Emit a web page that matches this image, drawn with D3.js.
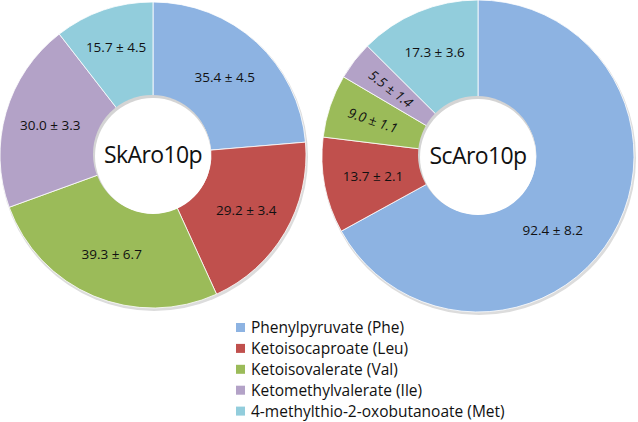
<!DOCTYPE html>
<html><head><meta charset="utf-8">
<script src="https://cdn.jsdelivr.net/npm/d3@7"></script>
<style>body{margin:0;background:#fff}svg{display:block}</style>
</head><body>
<svg id="c" width="638" height="422"></svg>
<script>
const categories = ["Phenylpyruvate (Phe)","Ketoisocaproate (Leu)","Ketoisovalerate (Val)","Ketomethylvalerate (Ile)","4-methylthio-2-oxobutanoate (Met)"];
const colors = ["#8db3e2","#c0504d","#9bbb59","#b3a2c7","#92cddc"];
const skValues = [35.4, 29.2, 39.3, 30.0, 15.7];
const skErrors = [4.5, 3.4, 6.7, 3.3, 4.5];
const scValues = [92.4, 13.7, 9.0, 5.5, 17.3];
const scErrors = [8.2, 2.1, 1.1, 1.4, 3.6];
const enzymes = ["SkAro10p","ScAro10p"];

const svg = d3.select("#c");
const font = "'Open Sans', sans-serif";

const donuts = [
  {name: enzymes[0], values: skValues, errors: skErrors, cx: 153, cy: 155, r: 153, labelR: [106,108,107,107,114], labelDA: [0,0,0,0,0], rotate: [false,false,false,false,false]},
  {name: enzymes[1], values: scValues, errors: scErrors, cx: 478, cy: 156, r: 156, labelR: [105,107,111,110,113], labelDA: [14,0,0,0,0], rotate: [false,false,true,true,false]}
];

const pie = d3.pie().sort(null).value(d => d.v);

donuts.forEach(dn => {
  const g = svg.append("g").attr("transform", `translate(${dn.cx},${dn.cy})`);
  const data = dn.values.map((v,i) => ({v, e: dn.errors[i], i}));
  const arcs = pie(data);
  const innerR = 58;
  g.append("circle").attr("cx", 1).attr("cy", 2).attr("r", dn.r + 1).attr("fill", "#dcdcdc");
  const arc = d3.arc().innerRadius(innerR).outerRadius(dn.r);
  g.selectAll("path.s").data(arcs).join("path")
    .attr("class","s")
    .attr("d", arc)
    .attr("fill", d => colors[d.data.i])
    .attr("stroke", "#ffffff")
    .attr("stroke-width", 0.8);
  g.append("circle").attr("cx", -1).attr("cy", -1).attr("r", innerR + 1).attr("fill", "#d4d4d4");
  g.append("circle").attr("cx", 0).attr("cy", 1).attr("r", innerR).attr("fill", "#ffffff");
  g.append("text").text(dn.name)
    .attr("x", 0).attr("y", 8)
    .attr("text-anchor", "middle")
    .attr("font-family", font).attr("font-size", 23).attr("letter-spacing", -0.6).attr("fill", "#111");
  arcs.forEach((a, k) => {
    const mid = (a.startAngle + a.endAngle) / 2 + dn.labelDA[k] * Math.PI / 180;
    const lr = dn.labelR[k];
    const x = Math.sin(mid) * lr, y = -Math.cos(mid) * lr;
    const t = g.append("text")
      .text(`${a.data.v.toFixed(1)} ± ${a.data.e.toFixed(1)}`)
      .attr("text-anchor", "middle")
      .attr("dominant-baseline", "central")
      .attr("font-family", font).attr("font-size", 13.5).attr("fill", "#111");
    if (dn.rotate[k]) {
      const deg = mid * 180 / Math.PI - 270;
      t.attr("transform", `translate(${x},${y}) rotate(${deg})`).attr("font-style", "italic");
    } else {
      t.attr("x", x).attr("y", y);
    }
  });
});

const lg = svg.append("g").attr("transform", "translate(236,323)");
categories.forEach((c, i) => {
  const row = lg.append("g").attr("transform", `translate(0,${i * 20.9})`);
  row.append("rect").attr("width", 9).attr("height", 9).attr("fill", colors[i]);
  row.append("text").text(c).attr("x", 15).attr("y", 10)
    .attr("font-family", font).attr("font-size", 15.5).attr("fill", "#111");
});
</script>
</body></html>
